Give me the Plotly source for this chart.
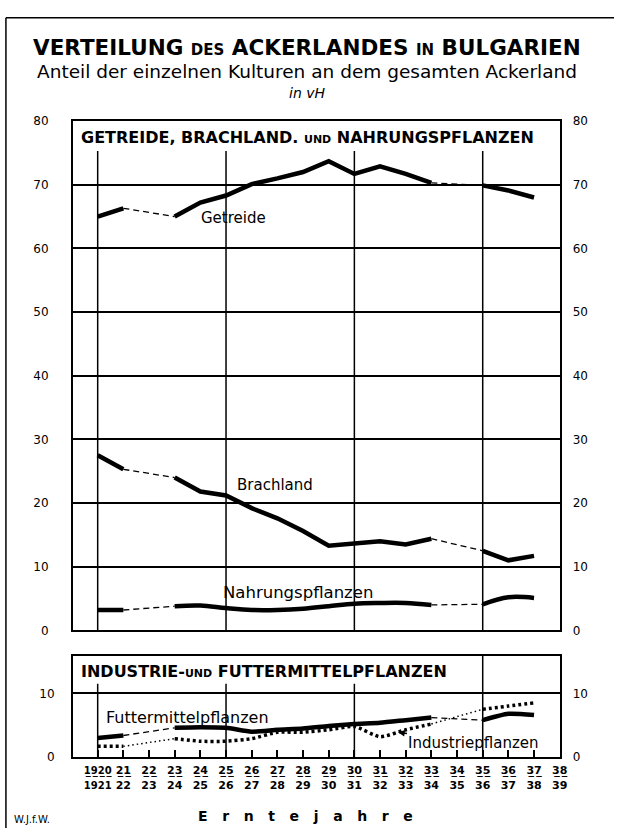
import plotly.graph_objects as go

# ---------------- data ----------------
years = list(range(1920, 1938))
getreide = [65.0, 66.3, None, 65.0, 67.2, 68.3, 70.1, 71.0, 72.0, 73.7, 71.7, 72.9, 71.7, 70.3, None, 69.9, 69.1, 68.0]
brachland = [27.5, 25.3, None, 24.0, 21.8, 21.2, 19.2, 17.6, 15.6, 13.3, 13.6, 14.0, 13.5, 14.4, None, 12.5, 11.0, 11.7]
nahrung = [3.2, 3.2, None, 3.8, 3.9, 3.5, 3.2, 3.2, 3.4, 3.8, 4.2, 4.3, 4.3, 4.0, None, 4.1, 5.2, 5.1]
futter = [3.0, 3.4, None, 4.6, 4.7, 4.6, 4.0, 4.3, 4.5, 4.9, 5.2, 5.4, 5.8, 6.2, None, 5.8, 6.8, 6.6]
industrie = [1.7, 1.7, None, 2.9, 2.5, 2.5, 2.9, 3.9, 3.9, 4.3, 4.8, 3.2, 4.3, 5.2, None, 7.5, 8.0, 8.5]

tick_years = list(range(1920, 1939))
top_ticks = [0, 10, 20, 30, 40, 50, 60, 70, 80]
bottom_ticks = [0, 10]
grid_years = [1920, 1925, 1930, 1935]

FONT = "DejaVu Sans"
UL = "\u0332"


def frac(num, den, size=None):
    t = "<b>" + "".join(c + UL for c in num) + "<br>" + den + "</b>"
    if size:
        t = f'<span style="font-size:{size}px">{t}</span>'
    return t


tick_text = [frac("1920", "1921", 10)] + [frac(str(y)[2:], str(y + 1)[2:]) for y in tick_years[1:]]


def gaps(xs, ys):
    """bridge segments over missing values"""
    gx, gy = [], []
    for i, v in enumerate(ys):
        if v is None and i > 0 and ys[i - 1] is not None:
            j = i
            while j < len(ys) and ys[j] is None:
                j += 1
            if j < len(ys):
                gx += [xs[i - 1], xs[j], None]
                gy += [ys[i - 1], ys[j], None]
    return gx, gy


fig = go.Figure()

X0, X1 = 74 / 622, 567 / 622
TOP_DOM = [1 - 634 / 835, 1 - 116 / 835]
BOT_DOM = [1 - 763 / 835, 1 - 660 / 835]
BOT_MAX = 15.85
XR = [1919.04, 1938]

# top panel series
for ys, smooth in [(getreide, False), (brachland, False), (nahrung, True)]:
    fig.add_trace(go.Scatter(x=years, y=ys, mode="lines", xaxis="x", yaxis="y",
                             line=dict(color="black", width=4.5,
                                       shape="spline" if smooth else "linear"),
                             connectgaps=False, showlegend=False, hoverinfo="skip"))
    gx, gy = gaps(years, ys)
    fig.add_trace(go.Scatter(x=gx, y=gy, mode="lines", xaxis="x", yaxis="y",
                             line=dict(color="black", width=1.3, dash="6px,4px"),
                             showlegend=False, hoverinfo="skip"))

# bottom panel series
fig.add_trace(go.Scatter(x=years, y=futter, mode="lines", xaxis="x2", yaxis="y2",
                         line=dict(color="black", width=4.5, shape="spline", smoothing=0.6),
                         connectgaps=False, showlegend=False, hoverinfo="skip"))
gx, gy = gaps(years, futter)
fig.add_trace(go.Scatter(x=gx, y=gy, mode="lines", xaxis="x2", yaxis="y2",
                         line=dict(color="black", width=1.3, dash="6px,4px"),
                         showlegend=False, hoverinfo="skip"))
fig.add_trace(go.Scatter(x=years, y=industrie, mode="lines", xaxis="x2", yaxis="y2",
                         line=dict(color="black", width=3.5, dash="3px,3px", shape="spline", smoothing=0.6),
                         connectgaps=False, showlegend=False, hoverinfo="skip"))
gx, gy = gaps(years, industrie)
fig.add_trace(go.Scatter(x=gx, y=gy, mode="lines", xaxis="x2", yaxis="y2",
                         line=dict(color="black", width=1.5, dash="1.5px,3px"),
                         showlegend=False, hoverinfo="skip"))

shapes = []
for gxv in grid_years:
    shapes.append(dict(type="line", xref="x", yref="y", x0=gxv, x1=gxv, y0=-1.0, y1=75.3,
                       line=dict(color="black", width=1.5), layer="below"))
    shapes.append(dict(type="line", xref="x2", yref="y2", x0=gxv, x1=gxv, y0=0,
                       y1=BOT_MAX if gxv == 1935 else 11.5,
                       line=dict(color="black", width=1.5), layer="below"))
# outer frame (top and left)
shapes.append(dict(type="line", xref="paper", yref="paper", x0=6 / 622, x1=1, y0=1 - 11 / 835, y1=1 - 11 / 835,
                   line=dict(color="black", width=1.5)))
shapes.append(dict(type="line", xref="paper", yref="paper", x0=6 / 622, x1=6 / 622, y0=0, y1=1 - 11 / 835,
                   line=dict(color="black", width=1.5)))

ann = []


def pa(text, x, y, size, bold=False, italic=False, xanchor="center"):
    t = text
    if bold:
        t = f"<b>{t}</b>"
    if italic:
        t = f"<i>{t}</i>"
    ann.append(dict(text=t, x=x / 622, y=1 - y / 835, xref="paper", yref="paper", showarrow=False,
                    xanchor=xanchor, yanchor="middle", font=dict(family=FONT, size=size, color="black")))


pa('VERTEILUNG <span style="font-size:15px">DES</span> ACKERLANDES <span style="font-size:15px">IN</span> BULGARIEN',
   311, 41, 21.5, bold=True)
pa("Anteil der einzelnen Kulturen an dem gesamten Ackerland", 311, 66, 18.5)
pa("in vH", 311, 87, 14, italic=True)
pa('GETREIDE, BRACHLAND. <span style="font-size:11px">UND</span> NAHRUNGSPFLANZEN', 80, 133, 16,
   bold=True, xanchor="left")
pa('INDUSTRIE-<span style="font-size:11px">UND</span> FUTTERMITTELPFLANZEN', 80, 676, 16,
   bold=True, xanchor="left")
pa("E   r   n   t   e   j   a   h   r   e", 309, 823, 14, bold=True)
pa("W.J.f.W.", 12, 826, 10, xanchor="left")


def da(text, x, y, xa, ya, size=15):
    ann.append(dict(text=text, x=x, y=y, xref=xa, yref=ya, showarrow=False,
                    font=dict(family=FONT, size=size, color="black")))


da("Getreide", 1925.3, 64.8, "x", "y")
da("Brachland", 1926.9, 22.9, "x", "y")
da("Nahrungspflanzen", 1927.8, 6.0, "x", "y", 16.5)
da("Futtermittelpflanzen", 1923.5, 6.2, "x2", "y2", 16)
ann.append(dict(text="Industriepflanzen", x=1931.7, y=3.9, xref="x2", yref="y2",
                showarrow=True, ax=76, ay=11, arrowhead=2, arrowsize=0.9, arrowwidth=1.5,
                arrowcolor="black", standoff=0, startstandoff=0,
                font=dict(family=FONT, size=15, color="black")))

axis_common = dict(showline=True, linecolor="black", linewidth=2, mirror=True, zeroline=False)

fig.update_layout(
    width=622, height=835, margin=dict(l=0, r=0, t=0, b=0),
    paper_bgcolor="white", plot_bgcolor="white",
    shapes=shapes, annotations=ann, showlegend=False,
    xaxis=dict(domain=[X0, X1], range=XR, showticklabels=False, showgrid=False, ticks="",
               anchor="y", **axis_common),
    yaxis=dict(domain=TOP_DOM, range=[0, 80], tickvals=top_ticks, showgrid=True, gridcolor="black",
               gridwidth=1.5, ticks="", ticklabelstandoff=20, anchor="x",
               tickfont=dict(family=FONT, size=12, color="black"), **axis_common),
    yaxis3=dict(overlaying="y", side="right", range=[0, 80], tickvals=top_ticks, showgrid=False,
                ticks="", ticklabelstandoff=12, anchor="x", zeroline=False,
                tickfont=dict(family=FONT, size=12, color="black")),
    xaxis2=dict(domain=[X0, X1], range=XR, tickvals=tick_years, ticktext=tick_text, showgrid=False,
                ticks="inside", ticklen=7, tickwidth=1.5, tickcolor="black", anchor="y2",
                tickangle=0, ticklabelstandoff=2,
                tickfont=dict(family=FONT, size=11, color="black"), **axis_common),
    yaxis2=dict(domain=BOT_DOM, range=[0, BOT_MAX], tickvals=bottom_ticks, showgrid=True,
                gridcolor="black", gridwidth=1.5, ticks="", ticklabelstandoff=14, anchor="x2",
                tickfont=dict(family=FONT, size=12, color="black"), **axis_common),
    yaxis4=dict(overlaying="y2", side="right", range=[0, BOT_MAX], tickvals=bottom_ticks,
                showgrid=False, ticks="", ticklabelstandoff=12, anchor="x2", zeroline=False,
                tickfont=dict(family=FONT, size=12, color="black")),
)

# dummy traces so overlay axes render
fig.add_trace(go.Scatter(x=[None], y=[None], xaxis="x", yaxis="y3", showlegend=False))
fig.add_trace(go.Scatter(x=[None], y=[None], xaxis="x2", yaxis="y4", showlegend=False))

fig.write_html("out.html", config={"displayModeBar": False},
               post_script="document.body.style.margin='0';")
